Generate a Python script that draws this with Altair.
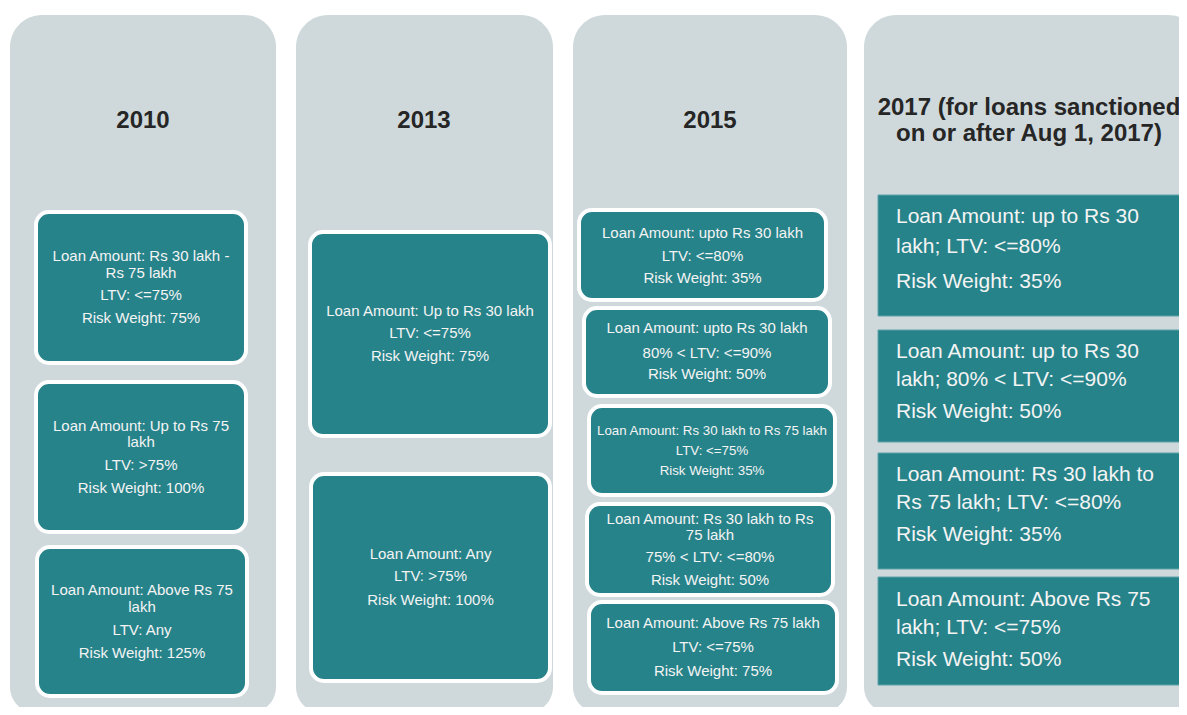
import altair as alt
import pandas as pd

# ---------------- content ----------------
panel_years = ["2010", "2013", "2015", "2017"]
heading_lines = [
    ["2010"],
    ["2013"],
    ["2015"],
    ["2017 (for loans sanctioned", "on or after Aug 1, 2017)"],
]
box_panel = [0, 0, 0, 1, 1, 2, 2, 2, 2, 2, 3, 3, 3, 3]
box_lines = [
    ["Loan Amount: Rs 30 lakh -", "Rs 75 lakh", "LTV: <=75%", "Risk Weight: 75%"],
    ["Loan Amount: Up to Rs 75", "lakh", "LTV: >75%", "Risk Weight: 100%"],
    ["Loan Amount: Above Rs 75", "lakh", "LTV: Any", "Risk Weight: 125%"],
    ["Loan Amount: Up to Rs 30 lakh", "LTV: <=75%", "Risk Weight: 75%"],
    ["Loan Amount: Any", "LTV: >75%", "Risk Weight: 100%"],
    ["Loan Amount: upto Rs 30 lakh", "LTV: <=80%", "Risk Weight: 35%"],
    ["Loan Amount: upto Rs 30 lakh", "80% < LTV: <=90%", "Risk Weight: 50%"],
    ["Loan Amount: Rs 30 lakh to Rs 75 lakh", "LTV: <=75%", "Risk Weight: 35%"],
    ["Loan Amount: Rs 30 lakh to Rs", "75 lakh", "75% < LTV: <=80%", "Risk Weight: 50%"],
    ["Loan Amount: Above Rs 75 lakh", "LTV: <=75%", "Risk Weight: 75%"],
    ["Loan Amount: up to Rs 30", "lakh; LTV: <=80%", "Risk Weight: 35%"],
    ["Loan Amount: up to Rs 30", "lakh; 80% < LTV: <=90%", "Risk Weight: 50%"],
    ["Loan Amount: Rs 30 lakh to", "Rs 75 lakh; LTV: <=80%", "Risk Weight: 35%"],
    ["Loan Amount: Above Rs 75", "lakh; LTV: <=75%", "Risk Weight: 50%"],
]

# ---------------- layout (diagram grid, page pixels) ----------------
panel_x0 = [10, 296, 573, 864]
panel_x1 = [276, 553, 847, 1200]
panel_top, panel_bottom = 15, 713
heading_cx = [143, 424, 710, 1029]
heading_y = [[121], [121], [121], [108, 134]]

box_x0 = [36, 36, 37, 310, 311, 579, 584, 589, 587, 589, 878, 878, 878, 878]
box_x1 = [246, 246, 247, 550, 550, 826, 830, 835, 833, 837, 1181, 1181, 1181, 1181]
box_y0 = [212, 382, 547, 232, 474, 210, 308, 406, 504, 602, 195, 330, 453, 577]
box_y1 = [363, 532, 696, 436, 681, 300, 396, 495, 595, 693, 316, 442, 569, 685]
line_y = [
    [256, 273, 295, 318],
    [426, 442, 465, 488],
    [590, 607, 630, 653],
    [311, 333, 356],
    [554, 576, 600],
    [233, 256, 278],
    [328, 353, 374],
    [431, 451, 471],
    [519, 535, 557, 580],
    [623, 647, 671],
    [217, 247, 282],
    [352, 380, 412],
    [475, 503, 535],
    [600, 628, 660],
]
box_font = [15, 15, 15, 15, 15, 15, 15, 13.3, 15, 15, 21, 21, 21, 21]
text_left_x = 896

PANEL = "#cfd9db"
TEAL = "#27838a"
W, H = 1171, 699

xs = alt.Scale(domain=[8, 8 + W], nice=False, zero=False)
ys = alt.Scale(domain=[8, 8 + H], nice=False, zero=False, reverse=True)

panels = pd.DataFrame({
    "year": panel_years, "x0": panel_x0, "x1": panel_x1,
    "y0": [panel_top] * 4, "y1": [panel_bottom] * 4,
})

heads = pd.DataFrame([
    {"t": t, "x": heading_cx[i], "y": heading_y[i][j]}
    for i, lines in enumerate(heading_lines) for j, t in enumerate(lines)
])

boxes = pd.DataFrame({
    "panel": box_panel, "x0": box_x0, "x1": box_x1, "y0": box_y0, "y1": box_y1,
})

rows = []
for b, lines in enumerate(box_lines):
    for j, t in enumerate(lines):
        p = box_panel[b]
        rows.append({
            "t": t, "panel": p,
            "x": text_left_x if p == 3 else (box_x0[b] + box_x1[b]) / 2,
            "y": line_y[b][j], "fs": box_font[b],
        })
texts = pd.DataFrame(rows)

enc_rect = dict(
    x=alt.X("x0:Q", scale=xs, axis=None),
    x2="x1:Q",
    y=alt.Y("y0:Q", scale=ys, axis=None),
    y2="y1:Q",
)

panel_layer = alt.Chart(panels).mark_rect(
    fill=PANEL, cornerRadiusTopLeft=32, cornerRadiusTopRight=32,
    cornerRadiusBottomLeft=26, cornerRadiusBottomRight=26, clip=True,
).encode(**enc_rect)

round_boxes = alt.Chart(boxes[boxes.panel < 3]).mark_rect(
    fill=TEAL, stroke="white", strokeWidth=4, cornerRadius=13,
).encode(**enc_rect)

square_boxes = alt.Chart(boxes[boxes.panel == 3]).mark_rect(
    fill=TEAL, stroke="#5fa3a8", strokeWidth=1, clip=True,
).encode(**enc_rect)

head_layer = alt.Chart(heads).mark_text(
    font="Liberation Sans", fontWeight="bold", fontSize=24, color="#262626",
    align="center", baseline="middle",
).encode(
    x=alt.X("x:Q", scale=xs, axis=None),
    y=alt.Y("y:Q", scale=ys, axis=None),
    text="t:N",
)

center_text = alt.Chart(texts[texts.panel < 3]).mark_text(
    font="Liberation Sans", color="#f4f4f4", align="center", baseline="middle",
).encode(
    x=alt.X("x:Q", scale=xs, axis=None),
    y=alt.Y("y:Q", scale=ys, axis=None),
    size=alt.Size("fs:Q", scale=None, legend=None),
    text="t:N",
)

left_text = alt.Chart(texts[texts.panel == 3]).mark_text(
    font="Liberation Sans", color="#f4f4f4", align="left", baseline="middle",
).encode(
    x=alt.X("x:Q", scale=xs, axis=None),
    y=alt.Y("y:Q", scale=ys, axis=None),
    size=alt.Size("fs:Q", scale=None, legend=None),
    text="t:N",
)

chart = alt.layer(
    panel_layer, round_boxes, square_boxes, head_layer, center_text, left_text
).properties(
    width=W, height=H, padding=0, background="white",
    autosize=alt.AutoSizeParams(type="none"),
).configure_view(stroke=None)

chart.save("out.html", embed_options={"renderer": "svg", "actions": False})
